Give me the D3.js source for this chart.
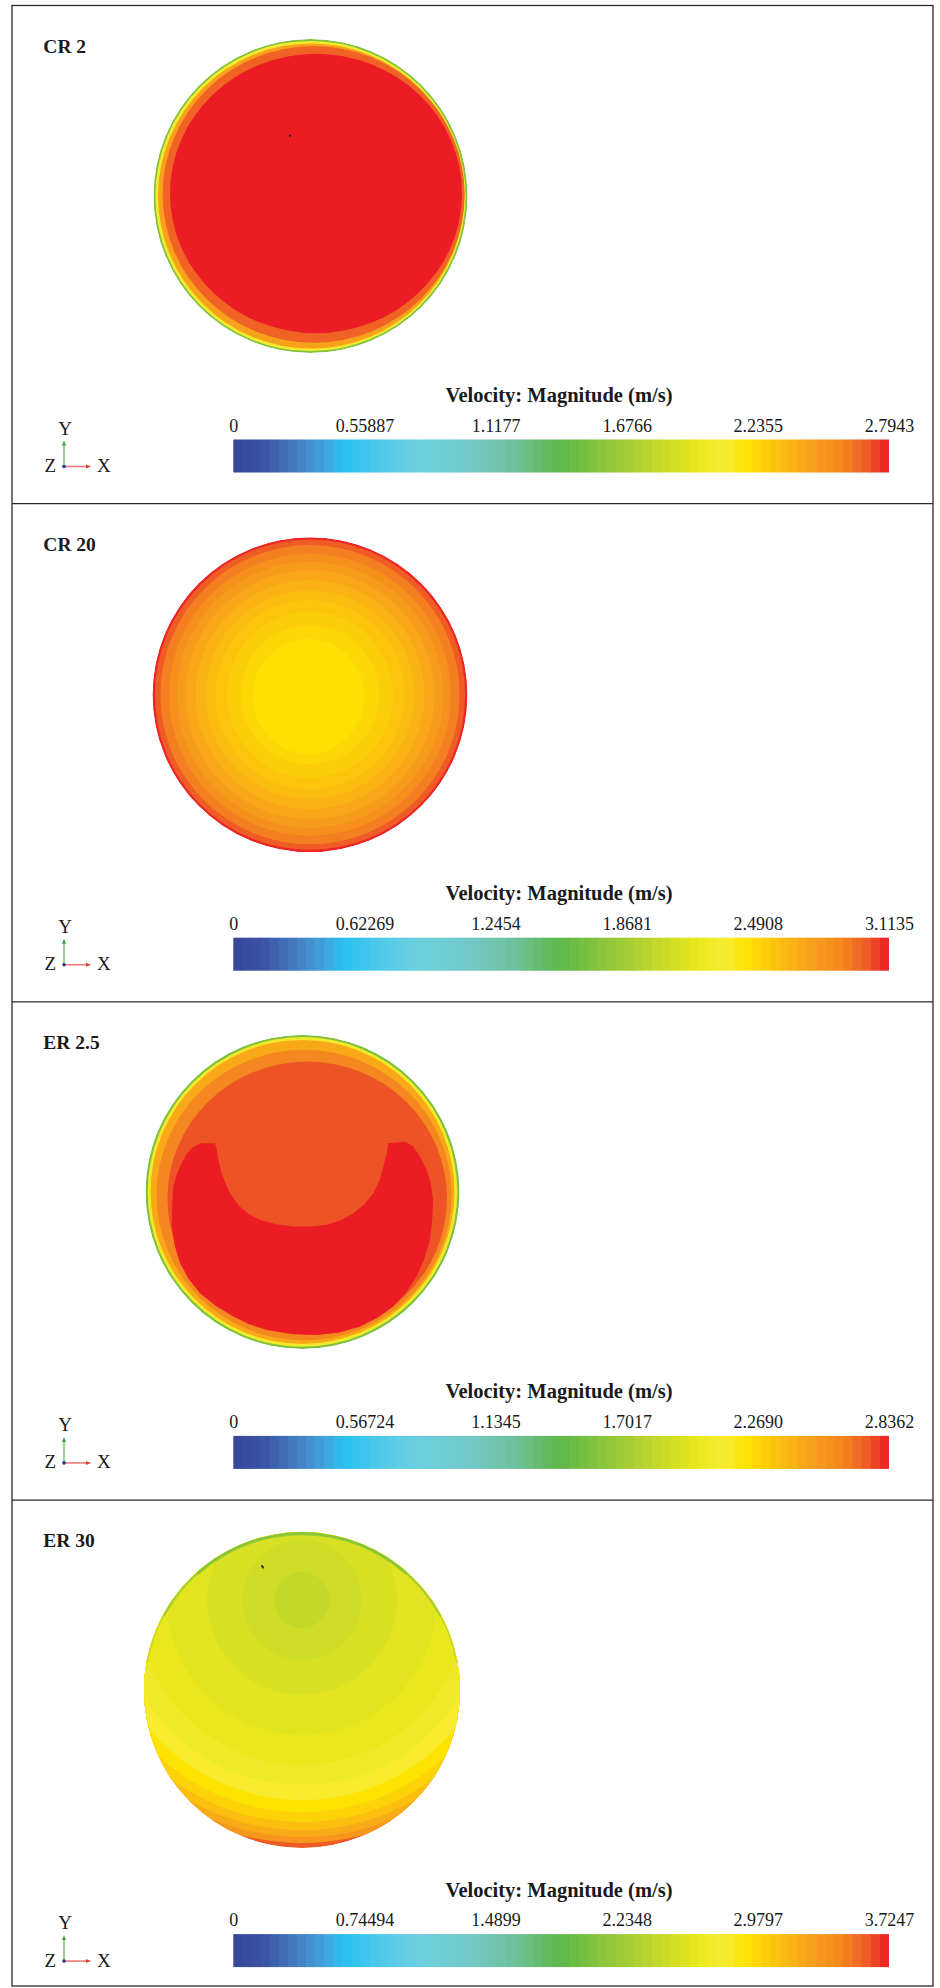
<!DOCTYPE html>
<html><head><meta charset="utf-8">
<script src="https://cdn.jsdelivr.net/npm/d3@7"></script>
<style>body{margin:0;background:#fff} svg{display:block}</style>
</head><body><svg id="chart" width="940" height="1988"></svg>
<script>
// ---------------- data ----------------
const panelLabels = ["CR 2", "CR 20", "ER 2.5", "ER 30"];
const maxVelocity = [2.7943, 3.1135, 2.8362, 3.7247];
const tickLabels = [
  ["0", "0.55887", "1.1177", "1.6766", "2.2355", "2.7943"],
  ["0", "0.62269", "1.2454", "1.8681", "2.4908", "3.1135"],
  ["0", "0.56724", "1.1345", "1.7017", "2.2690", "2.8362"],
  ["0", "0.74494", "1.4899", "2.2348", "2.9797", "3.7247"]
];
const colorbarTitle = "Velocity: Magnitude (m/s)";

// colormap (fraction of max -> colour)
const cmapStops  = [0.00, 0.05, 0.10, 0.14, 0.17, 0.22, 0.28, 0.36, 0.43, 0.50, 0.57, 0.64, 0.71, 0.75, 0.78, 0.83, 0.88, 0.93, 0.97, 1.00];
const cmapColors = ["#38479c", "#3b56a6", "#4580c3", "#3fa4dc", "#29c1f0", "#4cc9ea", "#6ccfe0", "#72c9c8", "#6ec09a", "#5db848",
                    "#8fc63b", "#bfd62c", "#eae81c", "#f6ec35", "#fde400", "#fcc10e", "#f8a11b", "#f4851f", "#ee5626", "#ec1c24"];

// contour layers, disc-normalised coordinates (-1..1, y up), v in m/s
const cr2Layers = [
  {cx: 0,     cy: 0,     rx: 1.000, ry: 1.000, v: 1.54},
  {cx: 0,     cy: 0,     rx: 0.988, ry: 0.988, v: 2.07},
  {cx: 0.004, cy: 0,     rx: 0.975, ry: 0.972, v: 2.46},
  {cx: 0.020, cy: 0.010, rx: 0.962, ry: 0.945, v: 2.68},
  {cx: 0.035, cy: 0.016, rx: 0.930, ry: 0.890, v: 2.7943}
];
const cr20Layers = [
  {cx: 0, cy: 0, rx: 1.000, ry: 1.000, v: 3.098},
  {cx: 0, cy: 0, rx: 0.985, ry: 0.985, v: 3.005},
  {cx: 0, cy: 0, rx: 0.950, ry: 0.950, v: 2.911},
  {cx: 0, cy: 0, rx: 0.895, ry: 0.895, v: 2.833},
  {cx: 0, cy: 0, rx: 0.845, ry: 0.845, v: 2.771},
  {cx: 0, cy: 0, rx: 0.790, ry: 0.790, v: 2.709},
  {cx: 0, cy: 0, rx: 0.727, ry: 0.727, v: 2.656},
  {cx: 0, cy: 0, rx: 0.663, ry: 0.663, v: 2.609},
  {cx: 0, cy: 0, rx: 0.600, ry: 0.600, v: 2.565},
  {cx: 0, cy: 0, rx: 0.527, ry: 0.527, v: 2.528},
  {cx: 0, cy: 0, rx: 0.440, ry: 0.440, v: 2.491},
  {cx: -0.01, cy: -0.01, rx: 0.355, ry: 0.365, v: 2.450}
];
const er25Layers = [
  {cx: 0,     cy: 0,     rx: 1.000, ry: 1.000, v: 1.55},
  {cx: 0,     cy: 0,     rx: 0.986, ry: 0.986, v: 2.08},
  {cx: 0,     cy: 0,     rx: 0.968, ry: 0.968, v: 2.46},
  {cx: 0.010, cy: -0.02, rx: 0.940, ry: 0.925, v: 2.63},
  {cx: 0.030, cy: -0.04, rx: 0.890, ry: 0.870, v: 2.755}
];
// red crescent contour of ER 2.5 (x, y)
const er25CrescentX = [-0.653, -0.557, -0.545, -0.536, -0.515, -0.483, -0.445, -0.398, -0.340, -0.270, -0.170, -0.058, 0.050, 0.154, 0.245, 0.324, 0.395, 0.451, 0.490, 0.515, 0.535, 0.547,
                       0.653, 0.705, 0.748, 0.785, 0.812, 0.833, 0.826, 0.812, 0.775, 0.727, 0.660, 0.578, 0.480, 0.366, 0.235, 0.090, -0.070, -0.228, -0.340, -0.441, -0.553, -0.653, -0.725, -0.780, -0.815,
                       -0.833, -0.830, -0.823, -0.800, -0.770, -0.740, -0.706];
const er25CrescentY = [0.310, 0.310, 0.260, 0.204, 0.120, 0.034, -0.035, -0.094, -0.142, -0.178, -0.206, -0.221, -0.220, -0.210, -0.180, -0.136, -0.078, -0.008, 0.075, 0.161, 0.240, 0.310,
                       0.320, 0.290, 0.225, 0.150, 0.076, -0.051, -0.180, -0.306, -0.430, -0.539, -0.640, -0.730, -0.800, -0.858, -0.895, -0.911, -0.905, -0.879, -0.843, -0.794, -0.725, -0.645, -0.555, -0.454, -0.340,
                       -0.221, -0.090, 0.034, 0.115, 0.183, 0.240, 0.278];
const er25CrescentV = 2.8362;

const er30Layers = [
  {cx: 0, cy: 0,    rx: 1.000, ry: 1.000, v: 3.594},
  {cx: 0, cy: 0.57, rx: 1.538, ry: 1.538, v: 3.352},
  {cx: 0, cy: 0.57, rx: 1.500, ry: 1.500, v: 3.222},
  {cx: 0, cy: 0.57, rx: 1.456, ry: 1.456, v: 3.110},
  {cx: 0, cy: 0.57, rx: 1.405, ry: 1.405, v: 2.998},
  {cx: 0, cy: 0.57, rx: 1.342, ry: 1.342, v: 2.905},
  {cx: 0, cy: 0.57, rx: 1.266, ry: 1.266, v: 2.812},
  {cx: 0, cy: 0.57, rx: 1.171, ry: 1.171, v: 2.712},
  {cx: 0, cy: 0.57, rx: 1.044, ry: 1.044, v: 2.645},
  {cx: 0, cy: 0.57, rx: 0.854, ry: 0.854, v: 2.589},
  {cx: 0, cy: 0.57, rx: 0.600, ry: 0.600, v: 2.533},
  {cx: 0, cy: 0.57, rx: 0.380, ry: 0.380, v: 2.488},
  {cx: 0, cy: 0.57, rx: 0.177, ry: 0.177, v: 2.414}
];
// wall boundary-layer arcs (angles in degrees from 12 o'clock)
const er30WallArcs = [
  {a0: -80, a1: 80, r0: 0.990, r1: 1.0, v: 2.23},
  {a0: -62, a1: 62, r0: 0.985, r1: 1.0, v: 2.10},
  {a0: -42, a1: 42, r0: 0.980, r1: 1.0, v: 1.95}
];
const fieldLayers = [cr2Layers, cr20Layers, er25Layers, er30Layers];
const wallArcs = [[], [], [], er30WallArcs];
// small dark specks visible in the field
const specks = [[{x: -0.13, y: 0.385, rx: 1.2, ry: 1.0}], [], [], [{x: -0.25, y: 0.78, rx: 1.0, ry: 2.0}]];

// ---------------- layout ----------------
const W = 940, H = 1988;
const frame = {left: 12, right: 933, top: 5.5, bottom: 1986, step: 498.2};
const disc = [{cx: 310.5, dy: 190.5, R: 157}, {cx: 310, dy: 191, R: 157.5}, {cx: 302.5, dy: 190, R: 157}, {cx: 302, dy: 190, R: 158}];
const bar = {x0: 233.3, x1: 889, top: 434, h: 33, titleY: 396.5, titleX: 559, bands: 72};
const serif = "'Liberation Serif', 'Times New Roman', serif";

const svg = d3.select("#chart");
svg.append("rect").attr("width", W).attr("height", H).attr("fill", "#fff");
const defs = svg.append("defs");

const cmap = d3.scaleLinear().domain(cmapStops).range(cmapColors).interpolate(d3.interpolateRgb).clamp(true);

panelLabels.forEach((label, p) => {
  const top = frame.top + p * frame.step;
  const g = svg.append("g").attr("transform", `translate(0,${top})`);
  const max = maxVelocity[p];
  const d = disc[p];
  const cy = d.dy;
  const xN = d3.scaleLinear().domain([-1, 1]).range([d.cx - d.R, d.cx + d.R]);
  const yN = d3.scaleLinear().domain([-1, 1]).range([cy + d.R, cy - d.R]);
  const vColor = v => cmap(v / max);

  // panel label
  g.append("text").attr("x", 43.3).attr("y", 47)
    .attr("font-family", serif).attr("font-weight", "bold").attr("font-size", 19.5)
    .attr("fill", "#1a1a1a").text(label);

  // disc clip
  const clipId = `disc${p}`;
  defs.append("clipPath").attr("id", clipId)
    .append("circle").attr("cx", xN(0)).attr("cy", yN(0)).attr("r", d.R);

  const field = g.append("g").attr("clip-path", `url(#${clipId})`);
  fieldLayers[p].forEach(l => {
    field.append("ellipse")
      .attr("cx", xN(l.cx)).attr("cy", yN(l.cy))
      .attr("rx", xN(l.rx) - xN(0)).attr("ry", yN(0) - yN(l.ry))
      .attr("fill", vColor(l.v));
  });
  if (p === 2) {
    const pts = er25CrescentX.map((x, i) => [x, er25CrescentY[i]]);
    const line = d3.line().x(q => xN(q[0])).y(q => yN(q[1])).curve(d3.curveLinearClosed);
    field.append("path").attr("d", line(pts)).attr("fill", vColor(er25CrescentV));
  }
  wallArcs[p].forEach(a => {
    const arc = d3.arc().innerRadius(a.r0 * d.R).outerRadius(a.r1 * d.R)
      .startAngle(a.a0 * Math.PI / 180).endAngle(a.a1 * Math.PI / 180).cornerRadius(1.5);
    field.append("path").attr("transform", `translate(${xN(0)},${yN(0)})`)
      .attr("d", arc()).attr("fill", vColor(a.v)).attr("opacity", 0.55);
  });
  specks[p].forEach(s => {
    field.append("ellipse").attr("cx", xN(s.x)).attr("cy", yN(s.y))
      .attr("rx", s.rx).attr("ry", s.ry).attr("fill", "#222")
      .attr("transform", `rotate(-30,${xN(s.x)},${yN(s.y)})`);
  });

  // colour bar
  const xs = d3.scaleLinear().domain([0, max]).range([bar.x0, bar.x1]);
  const bands = d3.range(bar.bands);
  g.append("g").selectAll("rect").data(bands).join("rect")
    .attr("x", i => xs(i * max / bar.bands))
    .attr("y", bar.top)
    .attr("width", i => xs((i + 1) * max / bar.bands) - xs(i * max / bar.bands) + (i < bar.bands - 1 ? 0.6 : 0))
    .attr("height", bar.h)
    .attr("fill", i => cmap((i + 0.5) / bar.bands));

  const tickVals = tickLabels[p].map(Number);
  const ax = g.append("g").attr("transform", `translate(0,${bar.top})`)
    .call(d3.axisTop(xs).tickValues(tickVals).tickFormat((v, i) => tickLabels[p][i]).tickSize(0).tickPadding(8));
  ax.select(".domain").remove();
  ax.attr("font-family", serif).attr("font-size", 18);
  ax.selectAll("text").attr("fill", "#1a1a1a");

  g.append("text").attr("x", bar.titleX).attr("y", bar.titleY).attr("text-anchor", "middle")
    .attr("font-family", serif).attr("font-weight", "bold").attr("font-size", 20.5)
    .attr("fill", "#1a1a1a").text(colorbarTitle);

  // axis triad
  const tri = g.append("g").attr("transform", `translate(64,461)`);
  tri.append("line").attr("x1", 0).attr("y1", 0).attr("x2", 0).attr("y2", -23)
    .attr("stroke", "#7cc672").attr("stroke-width", 1.6);
  tri.append("path").attr("d", "M-2,-21 L0,-26 L2,-21 Z").attr("fill", "#3e9e48");
  tri.append("line").attr("x1", 0).attr("y1", 0).attr("x2", 24).attr("y2", 0)
    .attr("stroke", "#f07a74").attr("stroke-width", 1.6);
  tri.append("path").attr("d", "M22,-2 L27,0 L22,2 Z").attr("fill", "#e0403a");
  tri.append("circle").attr("r", 1.8).attr("fill", "#2c3b8e");
  tri.append("text").attr("x", 1).attr("y", -32).attr("text-anchor", "middle")
    .attr("font-family", serif).attr("font-size", 19).attr("fill", "#1a1a1a").text("Y");
  tri.append("text").attr("x", -8).attr("y", 5.5).attr("text-anchor", "end")
    .attr("font-family", serif).attr("font-size", 19).attr("fill", "#1a1a1a").text("Z");
  tri.append("text").attr("x", 33).attr("y", 5.5)
    .attr("font-family", serif).attr("font-size", 19).attr("fill", "#1a1a1a").text("X");
});

// frame lines
const fr = svg.append("g").attr("stroke", "#2a2a2a").attr("stroke-width", 1.3).attr("fill", "none");
fr.append("rect").attr("x", frame.left).attr("y", frame.top)
  .attr("width", frame.right - frame.left).attr("height", frame.bottom - frame.top);
d3.range(1, panelLabels.length).forEach(i => {
  const y = frame.top + i * frame.step;
  fr.append("line").attr("x1", frame.left).attr("x2", frame.right).attr("y1", y).attr("y2", y);
});
</script></body></html>
